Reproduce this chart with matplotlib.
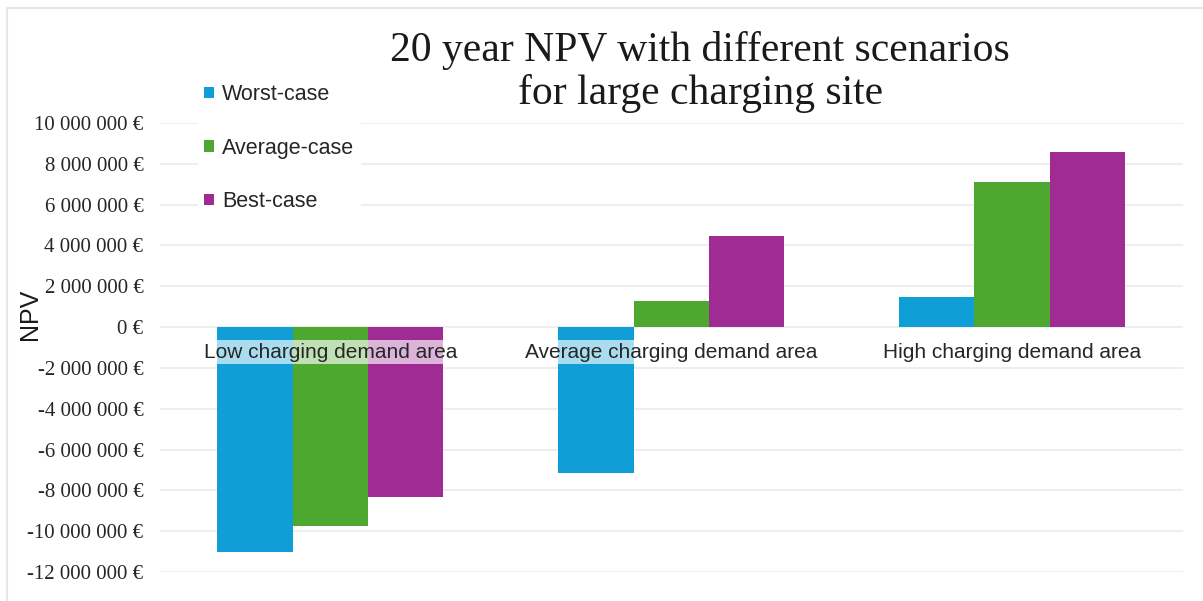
import numpy as np
import matplotlib.pyplot as plt
from matplotlib.patches import Rectangle
from matplotlib.ticker import FuncFormatter

# NPV over 20 years per demand area and scenario (EUR)
areas = ["Low charging demand area", "Average charging demand area", "High charging demand area"]
scenarios = ["Worst-case", "Average-case", "Best-case"]
worst = [-11.0e6, -7.15e6, 1.47e6]
average = [-9.75e6, 1.27e6, 7.1e6]
best = [-8.35e6, 4.45e6, 8.58e6]
colors = ["#0F9ED5", "#4EA72E", "#A02B93"]

fig = plt.figure(figsize=(12.03, 6.01), dpi=100)
ax = fig.add_axes([0.133, 0.0483, 0.850, 0.747])

# light outer frame
fig.patches.append(Rectangle((7/1203, -0.1), 1.2, 1 - 8/601 + 0.1, transform=fig.transFigure,
                             fill=False, edgecolor="#e6e6e6", linewidth=1.5))

x = np.arange(len(areas))
w = 0.221
for k, (vals, lab, c) in enumerate(zip([worst, average, best], scenarios, colors)):
    ax.bar(x + (k - 1) * w, vals, w, color=c, label=lab, zorder=2)

ax.set_xlim(-0.5, 2.5)
ax.set_ylim(-12e6, 10e6)
ax.set_yticks(np.arange(-12e6, 10e6 + 1, 2e6))
ax.yaxis.set_major_formatter(FuncFormatter(lambda v, p: f"{int(round(v)):,} €".replace(",", " ")))
ax.grid(axis="y", color="#ebebeb", linewidth=1.2, zorder=0)
ax.set_axisbelow(True)
for s in ax.spines.values():
    s.set_visible(False)
ax.tick_params(axis="y", length=0, pad=12, labelsize=15)
for t in ax.get_yticklabels():
    t.set_fontfamily("Liberation Serif")
    t.set_color("#262626")

# category labels sit just under the zero line, over the bars
ax.set_xticks([])
for xi, name in zip(x, areas):
    ax.annotate(name, (xi, 0), xytext=(0, -25), textcoords="offset pixels",
                ha="center", va="center", fontfamily="Liberation Sans", fontsize=15,
                color="#262626", zorder=5,
                bbox=dict(facecolor="white", alpha=0.65, edgecolor="none", pad=2))

fig.text(30/1203, 1 - 314/601, "NPV", rotation=90, ha="center", va="center",
         fontfamily="Liberation Sans", fontsize=18, color="#1a1a1a")

fig.text(0.582, 1 - 72/601, "20 year NPV with different scenarios\nfor large charging site",
         ha="center", va="center", fontfamily="Liberation Serif", fontsize=30,
         linespacing=1.13, color="#1a1a1a")

leg = ax.legend(loc="upper left", bbox_to_anchor=(198/1203, 1 - 78/601),
                bbox_transform=fig.transFigure, frameon=True, framealpha=1,
                edgecolor="none", fancybox=False, handlelength=0.42, handleheight=0.42,
                handletextpad=0.4, labelspacing=1.5, borderaxespad=0, borderpad=0.3,
                prop={"family": "Liberation Sans", "size": 15.5})
for t in leg.get_texts():
    t.set_color("#262626")

fig.savefig("out.png", dpi=100)
